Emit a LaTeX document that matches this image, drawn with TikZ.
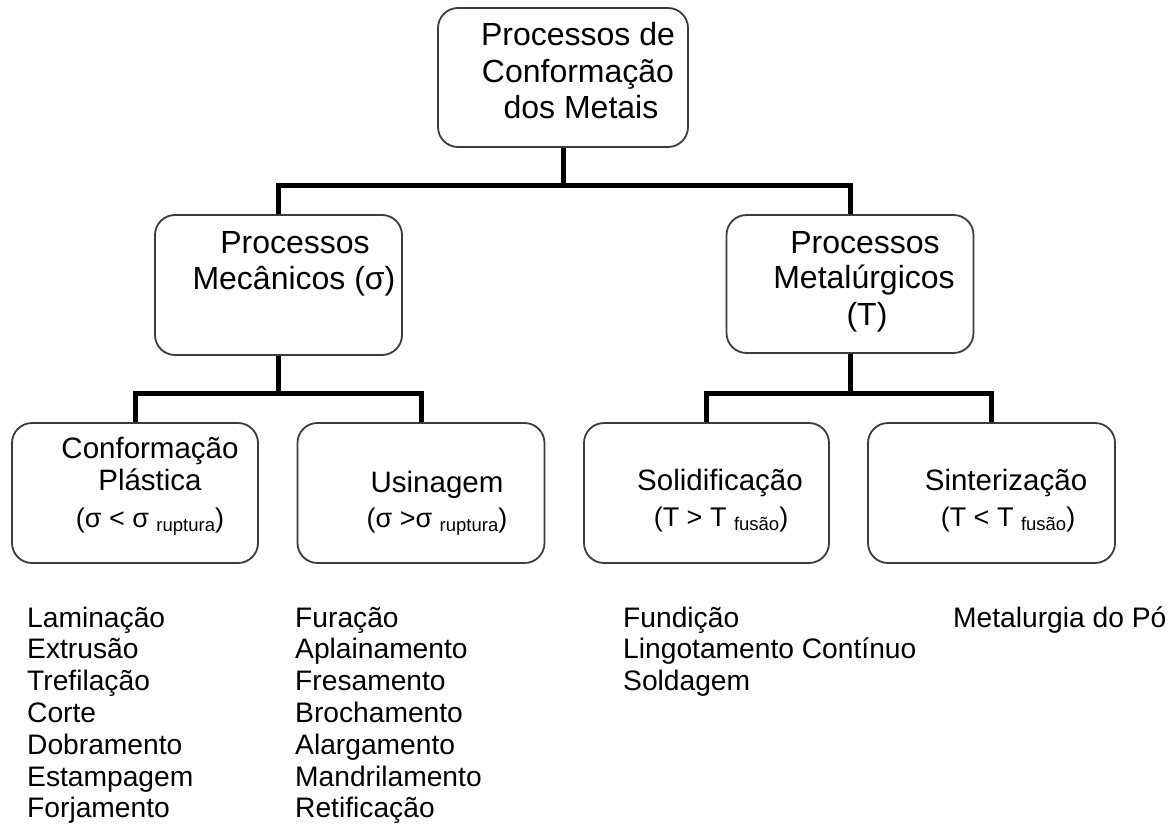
\documentclass[tikz,border=0pt]{standalone}
\usepackage{fontspec}
\setmainfont{Liberation Sans}
\definecolor{boxgray}{RGB}{60,60,60}
\newcommand\lowsub[1]{\raisebox{-4pt}{\fontsize{18.5}{18.5}\selectfont #1}}
\begin{document}
\begin{tikzpicture}[x=1pt,y=-1pt,
  box/.style={draw=boxgray, line width=1.8pt, rounded corners=20pt, fill=white, inner sep=0pt, minimum width=247pt, minimum height=140pt},
  link/.style={line width=5pt, draw=black, line join=miter},
  big/.style={inner sep=0pt, anchor=base, font=\fontsize{32}{36}\selectfont},
  mid/.style={inner sep=0pt, anchor=base, font=\fontsize{29.5}{34}\selectfont},
  cond/.style={inner sep=0pt, anchor=base, font=\fontsize{27}{30}\selectfont},
  item/.style={inner sep=0pt, anchor=base west, font=\fontsize{28.2}{32}\selectfont}]
\useasboundingbox (0,0) rectangle (1175,827);

% boxes
\node[box, minimum width=250pt, minimum height=139pt] (top) at (563,77.5) {};
\node[box] (mec) at (278.5,285) {};
\node[box, minimum height=138pt] (met) at (850,284) {};
\node[box, minimum width=246pt] (conf) at (135,493) {};
\node[box] (usi) at (421,493) {};
\node[box, minimum width=245pt] (sol) at (706.5,493) {};
\node[box] (sin) at (991.5,493) {};

% connectors
\coordinate (j0) at (563,185);
\coordinate (j1) at (278.5,393);
\coordinate (j2) at (850,393);
\draw[link] (top.south) -- (j0);
\draw[link] (mec.north) |- (j0) -| (met.north);
\draw[link] (mec.south) -- (j1);
\draw[link] (conf.north) |- (j1) -| (usi.north);
\draw[link] (met.south) -- (j2);
\draw[link] (sol.north) |- (j2) -| (sin.north);

% box texts
\node[big] (t1) at (578,45.5) {Processos de};
\node[big] (t2) at (578,82) {Conformação};
\node[big] (t3) at (581,118) {dos Metais};

\node[big] (m1) at (295,253) {Processos};
\node[big] (m2) at (294,289) {Mecânicos (σ)};

\node[big] (g1) at (865,253) {Processos};
\node[big] (g2) at (864,288) {Metalúrgicos};
\node[big] (g3) at (867,325) {(T)};

\node[mid] (c1) at (150,458) {Conformação};
\node[mid] (c2) at (150,490) {Plástica};
\node[cond] (c3) at (150,527) {(σ < σ \lowsub{ruptura})};

\node[mid] (u1) at (437,492) {Usinagem};
\node[cond] (u2) at (437,527) {(σ >σ \lowsub{ruptura})};

\node[mid] (s1) at (720,490) {Solidificação};
\node[cond] (s2) at (721,526) {(T > T \lowsub{fusão})};

\node[mid] (r1) at (1006,490) {Sinterização};
\node[cond] (r2) at (1008,526) {(T < T \lowsub{fusão})};

% lists
\foreach \w [count=\i] in {Laminação,Extrusão,Trefilação,Corte,Dobramento,Estampagem,Forjamento}
  \node[item] (a\i) at (27,{627+31.8*(\i-1)}) {\w};
\foreach \w [count=\i] in {Furação,Aplainamento,Fresamento,Brochamento,Alargamento,Mandrilamento,Retificação}
  \node[item] (b\i) at (295,{627+31.8*(\i-1)}) {\w};
\foreach \w [count=\i] in {Fundição,Lingotamento Contínuo,Soldagem}
  \node[item] (d\i) at (623,{627+31.8*(\i-1)}) {\w};
\node[item] (e1) at (953,627) {Metalurgia do Pó};
\end{tikzpicture}
\end{document}
